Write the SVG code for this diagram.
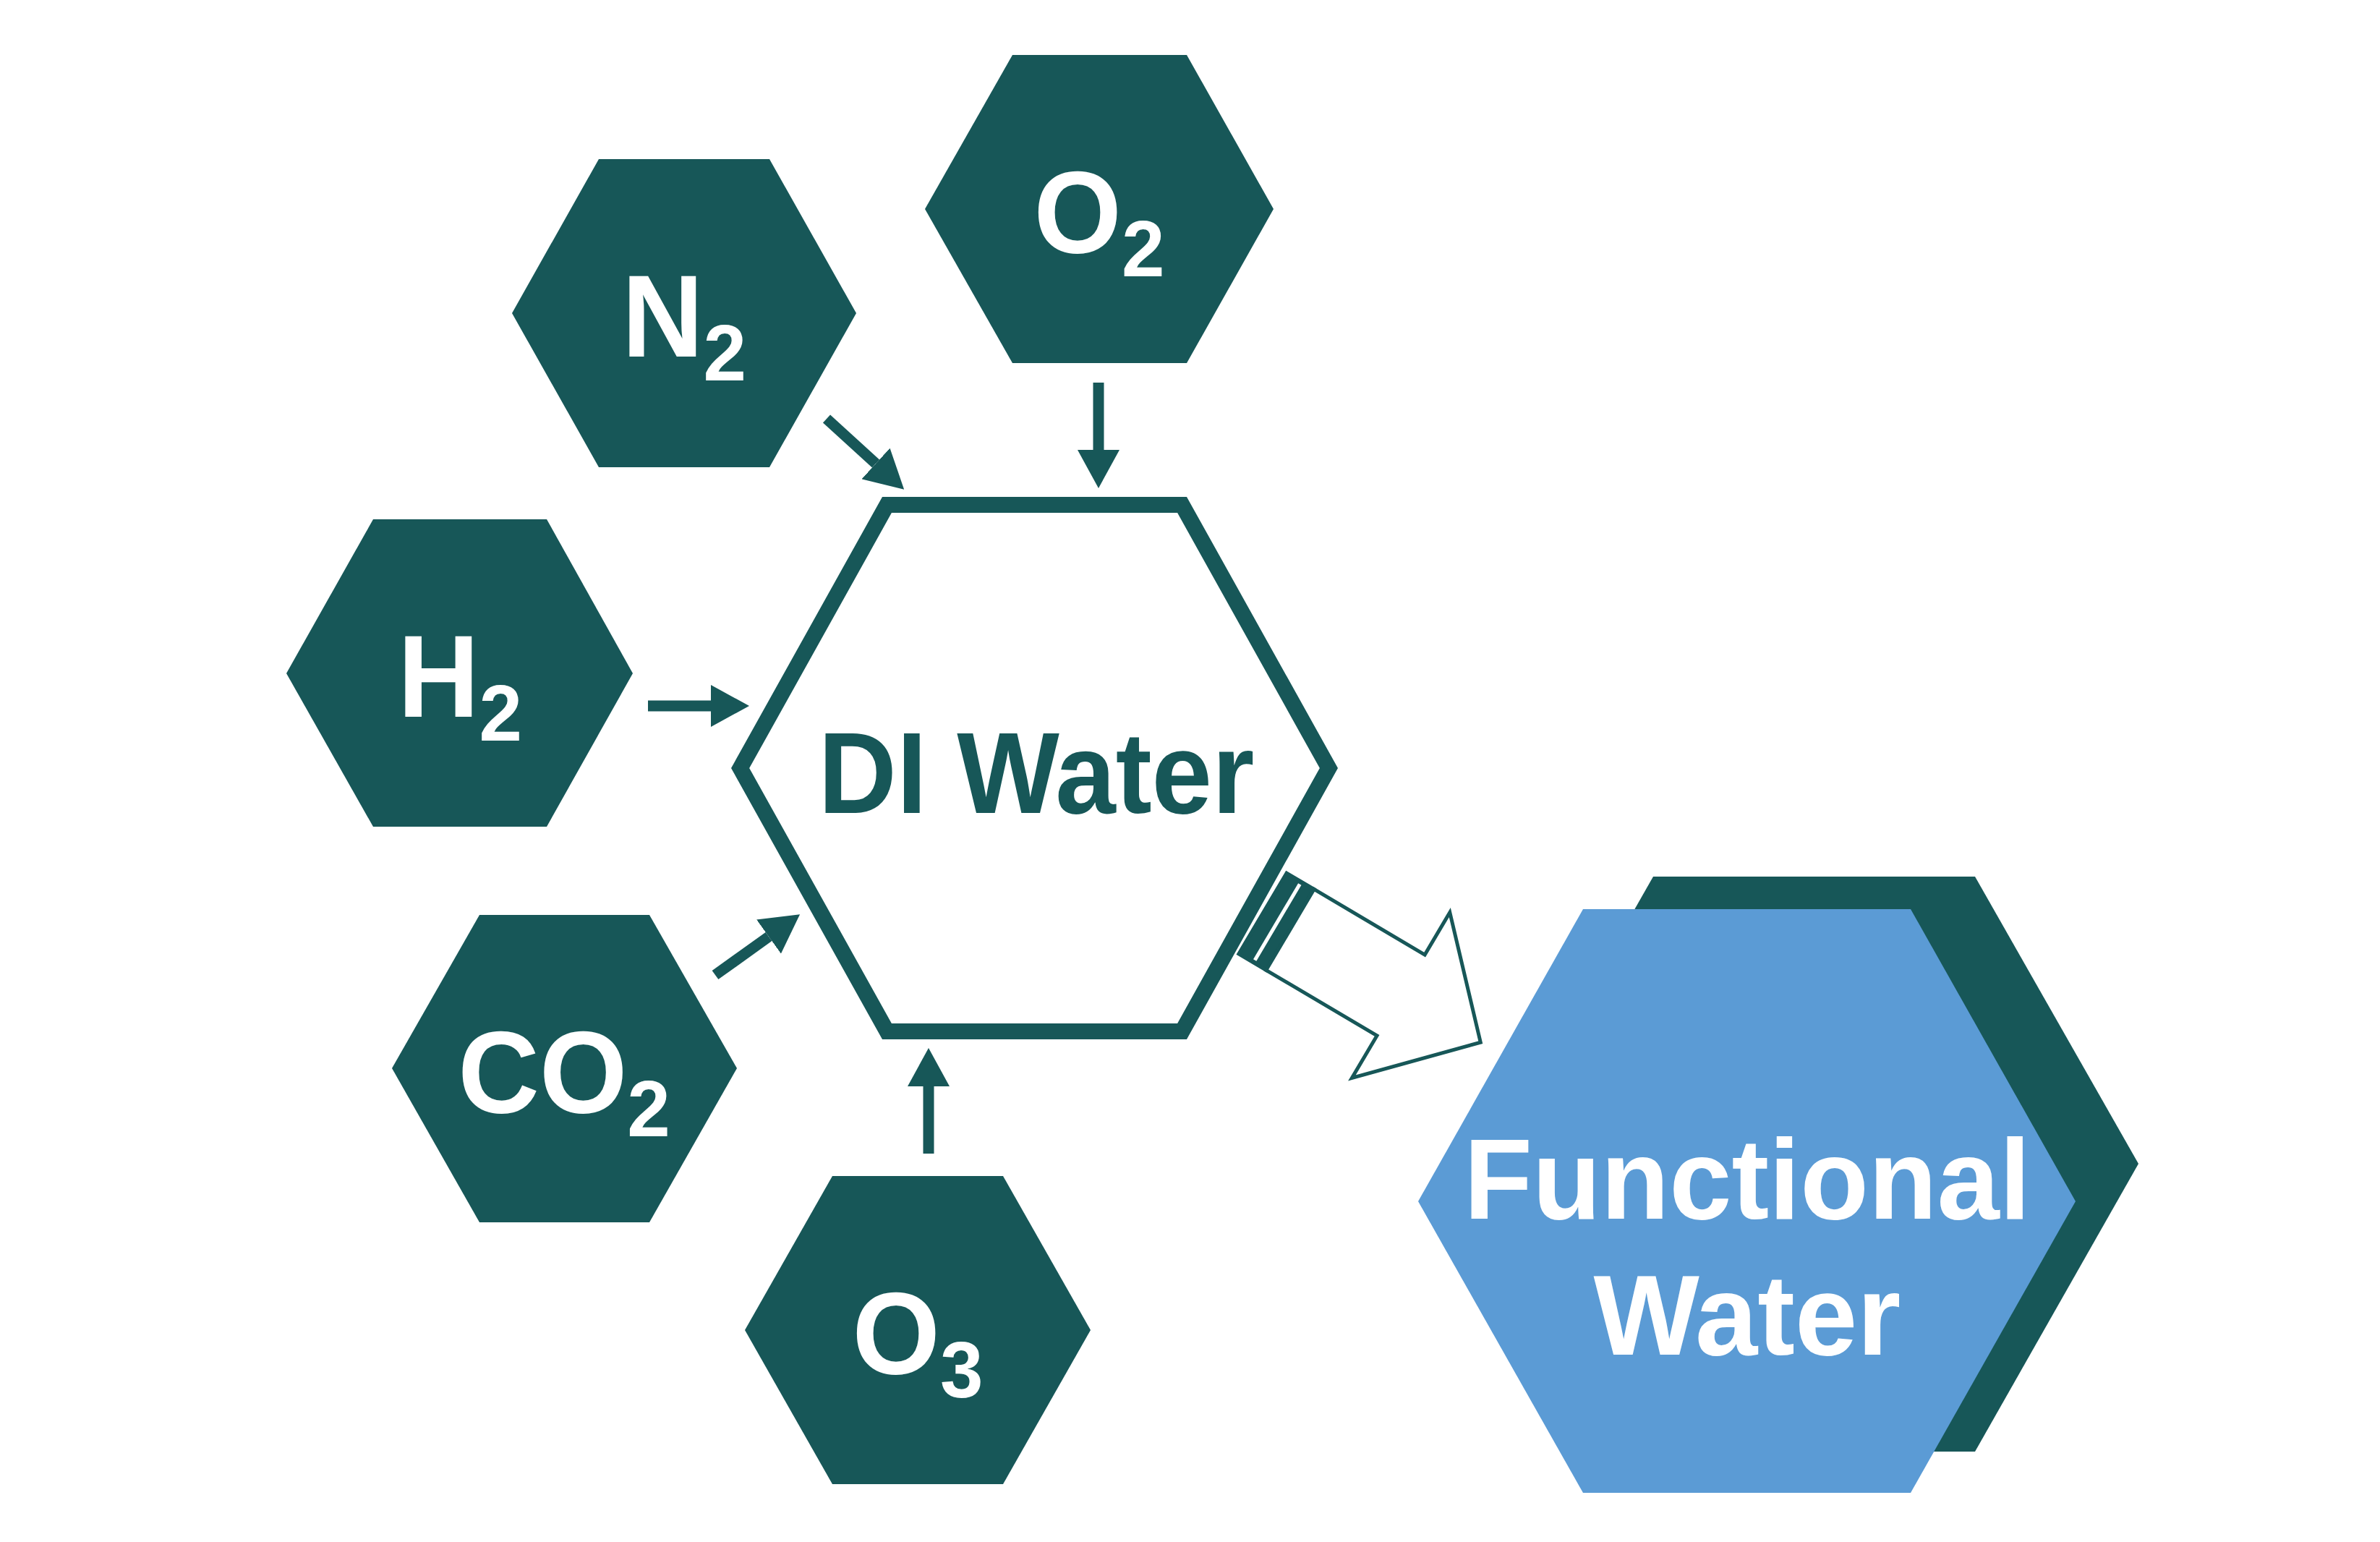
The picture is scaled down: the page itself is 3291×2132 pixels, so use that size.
<svg xmlns="http://www.w3.org/2000/svg" width="3291" height="2132" viewBox="0 0 3291 2132">
<defs>
<style>
.hex{fill:#175758;}
.lbl{font-family:"Liberation Sans",Arial,sans-serif;font-weight:bold;fill:#ffffff;font-size:156px;text-anchor:middle;}
.sub{font-size:107px;}
.conn{stroke:#175758;stroke-width:15;fill:none;marker-end:url(#ah);}
.big{font-family:"Liberation Sans",Arial,sans-serif;font-weight:bold;text-anchor:middle;}
</style>
<marker id="ah" markerUnits="userSpaceOnUse" markerWidth="54" markerHeight="58" refX="0" refY="29" orient="auto" viewBox="0 0 54 58">
<path d="M0,0 L53,29 L0,58 z" fill="#175758"/>
</marker>
</defs>
<rect width="3291" height="2132" fill="#ffffff"/>

<g id="n2">
<polygon class="hex" points="708,433 828,220 1064,220 1184,433 1064,646 828,646"/>
<text class="lbl" transform="translate(946,493) scale(1,1.03)">N<tspan class="sub" dy="32">2</tspan></text>
</g>
<g id="o2">
<polygon class="hex" points="1279,289 1400,76 1641,76 1761,289 1641,502 1400,502"/>
<text class="lbl" transform="translate(1520,349) scale(1,1.03)">O<tspan class="sub" dy="32">2</tspan></text>
</g>
<g id="h2">
<polygon class="hex" points="396,931 516,718 756,718 875,931 756,1143 516,1143"/>
<text class="lbl" transform="translate(636,991) scale(1,1.03)">H<tspan class="sub" dy="32">2</tspan></text>
</g>
<g id="co2">
<polygon class="hex" points="542,1477 663,1265 898,1265 1019,1477 898,1690 663,1690"/>
<text class="lbl" transform="translate(780,1538) scale(1,1.03)">CO<tspan class="sub" dy="32">2</tspan></text>
</g>
<g id="o3">
<polygon class="hex" points="1030,1839 1151,1626 1387,1626 1508,1839 1387,2052 1151,2052"/>
<text class="lbl" transform="translate(1269,1899) scale(1,1.03)">O<tspan class="sub" dy="32">3</tspan></text>
</g>

<g id="di-water">
<polygon points="1023.6,1062 1226.5,698 1634.5,698 1837.4,1062 1634.5,1426 1226.5,1426" fill="#ffffff" stroke="#175758" stroke-width="22" stroke-linejoin="miter"/>
<text class="big" transform="translate(1433,1124) scale(1,1.06)" font-size="150" fill="#175758">DI Water</text>
</g>

<g id="functional-water">
<polygon points="2060,1609 2286,1212 2731,1212 2957,1609 2731,2007 2286,2007" fill="#175758"/>
<polygon points="1961,1661 2189,1257 2642,1257 2870,1661 2642,2064 2189,2064" fill="#5b9bd5"/>
<text class="big" transform="translate(2416,1685) scale(1,1.02)" font-size="155" fill="#ffffff">Functional</text>
<text class="big" transform="translate(2416,1873) scale(1,1.02)" font-size="155" fill="#ffffff">Water</text>
</g>

<g id="connectors">
<line class="conn" x1="1143" y1="579" x2="1211" y2="641"/>
<line class="conn" x1="1519" y1="529" x2="1519" y2="622"/>
<line class="conn" x1="896" y1="976" x2="983" y2="976"/>
<line class="conn" x1="989" y1="1348" x2="1063" y2="1295"/>
<line class="conn" x1="1284" y1="1595" x2="1284" y2="1502"/>
<g id="block-arrow" transform="translate(1746,1263) rotate(30.6)">
<polygon points="0,-65 44,-65 44,65 0,65" fill="#175758" stroke="#175758" stroke-width="5"/>
<rect x="21" y="-61" width="5" height="122" fill="#ffffff"/>
<polygon points="44,-65 222,-65 222,-133 350,0 222,133 222,65 44,65" fill="#ffffff" stroke="#175758" stroke-width="5" stroke-linejoin="miter"/>
</g>
</g>
</svg>
